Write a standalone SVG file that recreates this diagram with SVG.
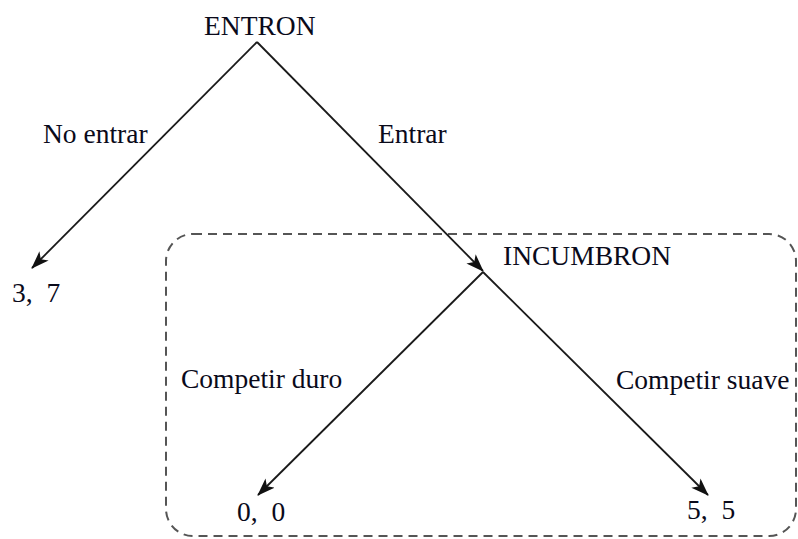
<svg xmlns="http://www.w3.org/2000/svg" width="798" height="539" viewBox="0 0 798 539">
  <style>
    .lbl { font-family: "Liberation Serif", "Times New Roman", serif; font-size: 27.5px; fill: #0a0a1a; white-space: pre; }
    .edge { stroke: #1a1a1a; stroke-width: 1.8; fill: none; marker-end: url(#ah); }
    .box { stroke: #555; stroke-width: 2; fill: none; stroke-dasharray: 9 6; }
  </style>
  <defs>
    <marker id="ah" viewBox="0 0 18 13" refX="17" refY="6.5" markerWidth="18" markerHeight="13" orient="auto" markerUnits="userSpaceOnUse">
      <path d="M0,0 L18,6.5 L0,13 L4.5,6.5 z" fill="#111"/>
    </marker>
  </defs>
  <rect class="box" x="166" y="234" width="630" height="302" rx="27" ry="27"/>
  <g id="connectors">
    <line class="edge" x1="257" y1="42" x2="32" y2="268"/>
    <line class="edge" x1="257" y1="42" x2="483" y2="271"/>
    <line class="edge" x1="483" y1="272" x2="258" y2="495"/>
    <line class="edge" x1="483" y1="272" x2="708" y2="495"/>
  </g>
  <g id="entron"><text class="lbl" x="204" y="35">ENTRON</text></g>
  <g id="incumbron"><text class="lbl" x="503" y="265">INCUMBRON</text></g>
  <g id="payoff-37"><text class="lbl" x="12" y="302" xml:space="preserve">3,  7</text></g>
  <g id="payoff-00"><text class="lbl" x="237" y="521" xml:space="preserve">0,  0</text></g>
  <g id="payoff-55"><text class="lbl" x="687" y="519" xml:space="preserve">5,  5</text></g>
  <g id="edge-labels">
    <text class="lbl" x="43" y="143">No entrar</text>
    <text class="lbl" x="378" y="143">Entrar</text>
    <text class="lbl" x="181" y="388">Competir duro</text>
    <text class="lbl" x="616" y="389">Competir suave</text>
  </g>
</svg>
